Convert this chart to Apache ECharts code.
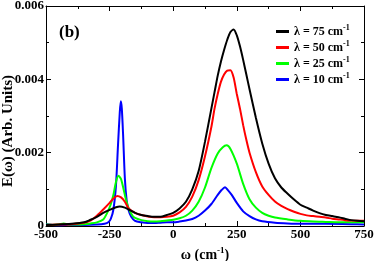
<!DOCTYPE html>
<html><head><meta charset="utf-8">
<script src="https://cdn.jsdelivr.net/npm/echarts@6/dist/echarts.min.js"></script>
<style>html,body{margin:0;padding:0;background:#fff}#c{width:374px;height:261px}</style>
</head><body><div id="c"></div>
<script>
var names = ['λ = 75 cm-1', 'λ = 50 cm-1', 'λ = 25 cm-1', 'λ = 10 cm-1'];
var colors = ['#000000', '#ff0000', '#00ff00', '#0000ff'];
var xTicks = [-500, -250, 0, 250, 500, 750];
var yTicks = [0, 0.002, 0.004, 0.006];

var x75 = [-500,-450,-400,-350,-325,-300,-275,-250,-225,-210,-190,-175,-150,-125,-100,-75,-50,-25,0,25,50,75,100,125,150,162.5,175,187.5,200,212.5,225,237.5,250,262.5,275,287.5,300,325,350,375,400,425,450,475,500,525,550,575,600,625,650,675,700,725,750];
var y75 = [0.00003,0.00004,0.00006,0.0001,0.00017,0.00025,0.00036,0.00044,0.00051,0.00053,0.0005,0.00045,0.00036,0.0003,0.00027,0.00025,0.00025,0.0003,0.00036,0.00048,0.00066,0.001,0.0015,0.0023,0.0032,0.00365,0.0041,0.00448,0.0048,0.00508,0.00529,0.00536,0.0052,0.0049,0.00453,0.00413,0.00373,0.00295,0.00225,0.0017,0.0013,0.00105,0.00088,0.00072,0.00058,0.0005,0.00042,0.00035,0.0003,0.00027,0.00024,0.0002,0.00016,0.00014,0.00013];

var x50 = [-500,-450,-400,-350,-325,-300,-275,-250,-235,-220,-205,-190,-175,-150,-125,-100,-75,-50,-25,0,25,50,75,100,125,150,162.5,175,187.5,200,212.5,225,237.5,250,262.5,275,287.5,300,325,350,375,400,425,450,475,500,525,550,575,600,625,650,675,700,750];
var y50 = [0.00003,0.00004,0.00005,0.00009,0.00015,0.00028,0.00045,0.00063,0.00075,0.00082,0.00078,0.00066,0.00048,0.00036,0.0003,0.00026,0.00024,0.00024,0.00025,0.00028,0.00037,0.00052,0.0008,0.00125,0.0019,0.0027,0.0032,0.0036,0.00393,0.00413,0.00424,0.00425,0.00405,0.0036,0.0032,0.00275,0.00235,0.002,0.00147,0.00108,0.00085,0.00067,0.00055,0.00046,0.00039,0.00033,0.00029,0.00027,0.00025,0.00023,0.0002,0.00018,0.00016,0.00015,0.00014];

var x25 = [-500,-475,-450,-430,-410,-375,-350,-325,-300,-275,-260,-245,-235,-225,-215,-205,-195,-185,-175,-160,-150,-125,-100,-75,-50,-25,0,25,50,75,100,125,150,175,195,210,225,250,275,300,325,350,375,400,450,500,550,600,650,700,750];
var y25 = [0.00004,0.00003,0.00004,0.00007,0.00004,0.00004,0.00005,0.00007,0.0001,0.00018,0.00035,0.0006,0.00085,0.0012,0.00137,0.00128,0.001,0.0007,0.00048,0.00028,0.00022,0.00016,0.00013,0.00012,0.00013,0.00015,0.00017,0.00021,0.00028,0.00042,0.00066,0.00105,0.00158,0.00198,0.00215,0.0022,0.0021,0.0017,0.00115,0.00073,0.0005,0.00036,0.00028,0.00023,0.00018,0.00014,0.00012,0.00011,0.0001,0.0001,0.0001];

var x10 = [-500,-475,-450,-400,-350,-300,-270,-255,-245,-235,-225,-217,-210,-206,-202,-197,-190,-183,-175,-165,-150,-125,-100,-75,-50,-25,0,25,50,75,100,125,150,175,190,204,215,230,250,275,300,325,350,400,450,500,600,700,750];
var y10 = [0.00005,0.00003,0.00002,0.00003,0.00003,0.00004,0.00006,0.0001,0.0002,0.00045,0.0011,0.0022,0.0031,0.0034,0.0032,0.0025,0.0013,0.0007,0.00042,0.00025,0.00014,0.0001,0.00008,0.00008,0.00009,0.0001,0.0001,0.00012,0.00015,0.00019,0.00028,0.00042,0.0006,0.00085,0.00098,0.00106,0.00098,0.00085,0.00063,0.0004,0.00027,0.00018,0.00013,0.00009,0.00007,0.00006,0.00006,0.00005,0.00004];

var XS = [x75, x50, x25, x10];
var YS = [y75, y50, y25, y10];

function pairs(xs, ys) { return xs.map(function (x, i) { return [x, ys[i]]; }); }

var FONT = 'Liberation Serif';
var chart = echarts.init(document.getElementById('c'), null, {renderer: 'canvas'});

var series = names.map(function (n, i) {
  return {
    name: n, type: 'line', data: pairs(XS[i], YS[i]), xAxisIndex: 0, yAxisIndex: 0,
    showSymbol: false, symbol: 'none', smooth: 0.25,
    lineStyle: {color: colors[i], width: 2}, itemStyle: {color: colors[i]}, z: 10 - i
  };
});

var tickCommon = {inside: true, length: 5, lineStyle: {color: '#000', width: 1}};
var minorCommon = {show: true, splitNumber: 2, length: 3, lineStyle: {color: '#000', width: 1}};
var lineCommon = {show: true, onZero: false, lineStyle: {color: '#000', width: 1}};

var option = {
  animation: false,
  backgroundColor: '#fff',
  grid: {left: 46, right: 10, top: 6, bottom: 35, containLabel: false, outerBoundsMode: 'none'},
  legend: {
    orient: 'vertical', left: 271, top: 19, itemGap: 2.5,
    icon: 'rect', itemWidth: 13, itemHeight: 3,
    data: names.map(function (n, i) { return {name: n, itemStyle: {color: colors[i]}}; }),
    formatter: function (n) { return '{t|' + n.replace(' cm-1', ' cm') + '}{s|-1}'; },
    textStyle: {
      fontFamily: FONT, fontWeight: 'bold', fontSize: 12, color: '#000',
      rich: {
        t: {fontFamily: FONT, fontWeight: 'bold', fontSize: 12, color: '#000', lineHeight: 15},
        s: {fontFamily: FONT, fontWeight: 'bold', fontSize: 8, color: '#000', padding: [0, 0, 7, 0]}
      }
    },
    selectedMode: false
  },
  xAxis: [{
    type: 'value', min: xTicks[0], max: xTicks[xTicks.length - 1], interval: 250, position: 'bottom',
    axisLine: lineCommon, axisTick: tickCommon, minorTick: minorCommon,
    splitLine: {show: false}, minorSplitLine: {show: false},
    axisLabel: {fontFamily: FONT, fontWeight: 'bold', fontSize: 13, color: '#000', margin: 2},
    name: '{t|ω (cm}{s|-1}{t|)}', nameLocation: 'middle', nameGap: 17,
    nameTextStyle: {
      rich: {
        t: {fontFamily: FONT, fontWeight: 'bold', fontSize: 14, color: '#000'},
        s: {fontFamily: FONT, fontWeight: 'bold', fontSize: 9, color: '#000', padding: [0, 0, 9, 0]}
      }
    }
  }, {
    type: 'value', min: -500, max: 750, interval: 250, position: 'top',
    axisLine: lineCommon, axisTick: tickCommon, minorTick: minorCommon,
    splitLine: {show: false}, axisLabel: {show: false}
  }],
  yAxis: [{
    type: 'value', min: 0, max: 0.006, interval: 0.002, position: 'left',
    axisLine: lineCommon, axisTick: tickCommon, minorTick: minorCommon,
    splitLine: {show: false}, minorSplitLine: {show: false},
    axisLabel: {
      fontFamily: FONT, fontWeight: 'bold', fontSize: 13, color: '#000', margin: 2,
      formatter: function (v) { return v === 0 ? '0' : v.toFixed(3); }
    }
  }, {
    type: 'value', min: 0, max: 0.006, interval: 0.002, position: 'right',
    axisLine: lineCommon, axisTick: tickCommon, minorTick: minorCommon,
    splitLine: {show: false}, axisLabel: {show: false}
  }],
  graphic: [{
    type: 'text', left: 59, top: 24,
    style: {text: '(b)', fontFamily: FONT, fontWeight: 'bold', fontSize: 17, fill: '#000'}
  }, {
    type: 'text', x: 8, y: 131, rotation: Math.PI / 2,
    style: {text: 'E(ω) (Arb. Units)', fontFamily: FONT, fontWeight: 'bold', fontSize: 15, fill: '#000',
            align: 'center', verticalAlign: 'middle'}
  }],
  series: series
};
chart.setOption(option);
</script></body></html>
